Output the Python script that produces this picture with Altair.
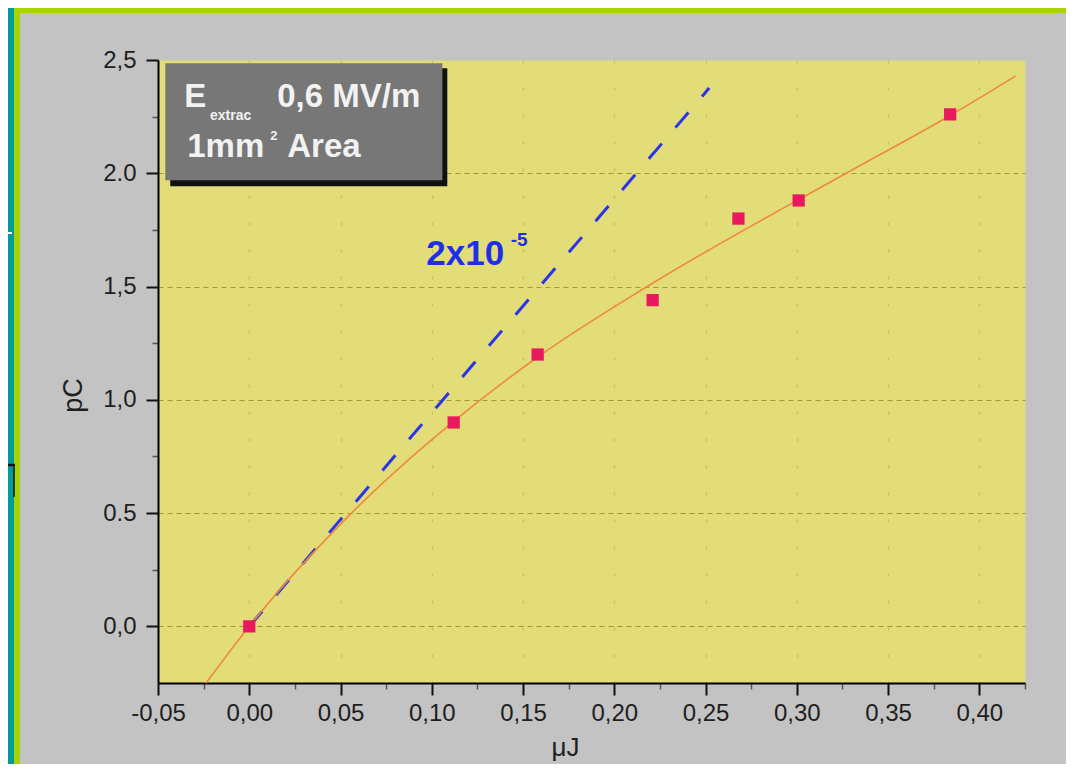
import altair as alt
import pandas as pd

# ---------------- data ----------------
pts_x = [0.000, 0.112, 0.158, 0.221, 0.268, 0.301, 0.384]
pts_y = [0.00, 0.90, 1.20, 1.44, 1.80, 1.88, 2.26]

fit_x = [-0.0236, 0.000, 0.056, 0.112, 0.160, 0.218, 0.327, 0.384, 0.420]
fit_y = [-0.25, 0.00, 0.50, 0.905, 1.20, 1.50, 2.00, 2.255, 2.43]

ref_x = [0.000, 0.252]
ref_y = [0.000, 2.376]

x_tick_values = [-0.05, -0.025, 0.0, 0.025, 0.05, 0.075, 0.10, 0.125, 0.15, 0.175,
                 0.20, 0.225, 0.25, 0.275, 0.30, 0.325, 0.35, 0.375, 0.40, 0.425]
x_tick_labels = ["-0,05", "", "0,00", "", "0,05", "", "0,10", "", "0,15", "",
                 "0,20", "", "0,25", "", "0,30", "", "0,35", "", "0,40", ""]
y_tick_values = [0.0, 0.25, 0.5, 0.75, 1.0, 1.25, 1.5, 1.75, 2.0, 2.25, 2.5]
y_tick_labels = ["0,0", "", "0.5", "", "1,0", "", "1,5", "", "2.0", "", "2,5"]

x_domain = [-0.05, 0.425]
y_domain = [-0.25, 2.5]

# annotation texts (anchored in data coordinates)
box_lines = ["E", "extrac", "0,6 MV/m", "1mm", "2", "Area"]
box_lines_x = [-0.0356, -0.0215, 0.0153, -0.034, 0.0115, 0.0208]
box_lines_y = [2.291, 2.234, 2.291, 2.071, 2.146, 2.071]
box_lines_size = [33, 14, 33, 33, 13, 33]

slope_text = ["2x10", "-5"]
slope_text_x = [0.097, 0.1432]
slope_text_y = [1.594, 1.680]
slope_text_size = [35, 19]

box_rect = {"x": -0.046, "x2": 0.1058, "y": 2.486, "y2": 1.969}
shadow_rect = {"x": -0.0433, "x2": 0.1085, "y": 2.464, "y2": 1.943}

FONT = "Liberation Sans"
TXT = "#1e1e1e"

W, H = 867, 623


def label_expr(values, labels):
    parts = [f"abs(datum.value - ({v})) < 1e-6 ? '{l}'" for v, l in zip(values, labels) if l]
    return " : ".join(parts) + " : ''"


x_minor = "abs(datum.value*20 - round(datum.value*20)) > 0.01"
y_minor = "abs(datum.value*2 - round(datum.value*2)) > 0.01"

x_axis = alt.Axis(
    values=x_tick_values, labelExpr=label_expr(x_tick_values, x_tick_labels),
    title="μJ", titleX=407, titleY=64, titleAlign="center", titleBaseline="middle",
    titleFont=FONT, titleFontSize=26, titleFontWeight="normal", titleColor=TXT,
    labelFont=FONT, labelFontSize=24, labelColor=TXT, labelPadding=6,
    labelOverlap=False, labelFlush=False,
    domainColor="#000000", domainWidth=2,
    tickSize={"condition": {"test": x_minor, "value": 6}, "value": 12},
    tickColor={"condition": {"test": x_minor, "value": "#555555"}, "value": "#111111"},
    tickWidth={"condition": {"test": x_minor, "value": 1.5}, "value": 2},
    grid=True, gridColor="#a49b3a", gridDash=[3, 24], gridWidth=1.2,
    gridOpacity={"condition": {"test": x_minor + " || datum.value < -0.04", "value": 0}, "value": 0.45},
)

y_axis = alt.Axis(
    values=y_tick_values, labelExpr=label_expr(y_tick_values, y_tick_labels),
    title="pC", titleAngle=270, titleX=-85, titleY=335, titleAlign="center",
    titleBaseline="middle", titleFont=FONT, titleFontSize=27, titleFontWeight="normal",
    titleColor=TXT,
    labelFont=FONT, labelFontSize=24, labelColor=TXT, labelPadding=10,
    labelOverlap=False, labelFlush=False,
    domainColor="#000000", domainWidth=2,
    tickSize={"condition": {"test": y_minor, "value": 6}, "value": 12},
    tickColor={"condition": {"test": y_minor, "value": "#555555"}, "value": "#111111"},
    tickWidth={"condition": {"test": y_minor, "value": 1.5}, "value": 2},
    grid=True, gridColor="#958c28", gridDash=[5, 4], gridWidth=1.2,
    gridOpacity={"condition": {"test": y_minor + " || datum.value > 2.4", "value": 0}, "value": 0.85},
)

X = alt.X("x:Q", scale=alt.Scale(domain=x_domain, nice=False, zero=False), axis=x_axis)
Y = alt.Y("y:Q", scale=alt.Scale(domain=y_domain, nice=False, zero=False), axis=y_axis)
X2 = alt.X2("x2:Q")
Y2 = alt.Y2("y2:Q")

one = alt.Data(values=[{"a": 1}])

# ---------------- frame decorations (outside the plot area) ----------------
teal = alt.Chart(one).mark_rect(color="#009b9b").encode(
    x=alt.value(-150), x2=alt.value(-144), y=alt.value(-52), y2=alt.value(H + 90))
lime_left = alt.Chart(one).mark_rect(color="#a8d200").encode(
    x=alt.value(-144), x2=alt.value(-138), y=alt.value(-52), y2=alt.value(H + 90))
lime_top = alt.Chart(one).mark_rect(color="#a8d200").encode(
    x=alt.value(-144), x2=alt.value(W + 45), y=alt.value(-52), y2=alt.value(-47))
mark_white = alt.Chart(one).mark_rule(color="#ffffff", strokeWidth=2).encode(
    x=alt.value(-150), x2=alt.value(-146), y=alt.value(173))
mark_black_h = alt.Chart(one).mark_rule(color="#111111", strokeWidth=2.5).encode(
    x=alt.value(-150), x2=alt.value(-143), y=alt.value(405))
mark_black_v = alt.Chart(one).mark_rule(color="#111111", strokeWidth=1.5).encode(
    x=alt.value(-144), y=alt.value(405), y2=alt.value(437))

# ---------------- data layers ----------------
fit_df = pd.DataFrame({"x": fit_x, "y": fit_y})
ref_df = pd.DataFrame({"x": ref_x, "y": ref_y})
pts_df = pd.DataFrame({"x": pts_x, "y": pts_y})

fit_line = alt.Chart(fit_df).mark_line(
    color="#ee8a38", strokeWidth=1.6, interpolate="monotone").encode(x=X, y=Y)
ref_line = alt.Chart(ref_df).mark_line(
    color="#2b35e8", strokeWidth=3, strokeDash=[20, 21]).encode(x=X, y=Y)
points = alt.Chart(pts_df).mark_square(
    size=150, color="#e8195f", opacity=1).encode(x=X, y=Y)

shadow = alt.Chart(pd.DataFrame([shadow_rect])).mark_rect(color="#111111").encode(
    x=X, x2=X2, y=Y, y2=Y2)
box = alt.Chart(pd.DataFrame([box_rect])).mark_rect(color="#777777").encode(
    x=X, x2=X2, y=Y, y2=Y2)

box_df = pd.DataFrame({"x": box_lines_x, "y": box_lines_y, "t": box_lines, "s": box_lines_size})
box_text = alt.Chart(box_df).mark_text(
    align="left", baseline="alphabetic", font=FONT, fontWeight="bold", color="#f2f2f2"
).encode(x=X, y=Y, text="t:N",
         size=alt.Size("s:Q", scale=None, legend=None))

slope_df = pd.DataFrame({"x": slope_text_x, "y": slope_text_y, "t": slope_text, "s": slope_text_size})
slope_txt = alt.Chart(slope_df).mark_text(
    align="left", baseline="alphabetic", font=FONT, fontWeight="bold", color="#1f2ee8"
).encode(x=X, y=Y, text="t:N",
         size=alt.Size("s:Q", scale=None, legend=None))

chart = alt.layer(
    teal, lime_left, lime_top, mark_white, mark_black_h, mark_black_v,
    ref_line, fit_line, points, shadow, box, box_text, slope_txt,
).properties(
    width=W, height=H,
    autosize=alt.AutoSizeParams(type="none"),
    padding={"left": 150, "top": 52, "right": 41, "bottom": 81},
    background="#c3c3c3",
).configure_view(
    fill="#e2dd78", strokeOpacity=0
)

chart.save("out.html", embed_options={"renderer": "svg", "actions": False})
